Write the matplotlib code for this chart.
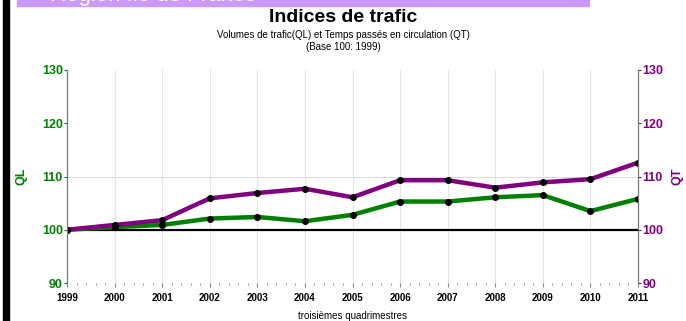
#!/usr/bin/env python3

import matplotlib.pyplot as plt
import matplotlib.ticker as ticker
from matplotlib.patches import Rectangle

years = [1999, 2000, 2001, 2002, 2003, 2004, 2005, 2006, 2007, 2008, 2009, 2010, 2011]
ql = [100.0, 100.5, 100.9, 102.1, 102.4, 101.6, 102.8, 105.3, 105.3, 106.1, 106.5, 103.5, 105.8]
qt = [100.0, 100.9, 101.8, 105.9, 106.9, 107.7, 106.1, 109.3, 109.3, 107.9, 108.9, 109.5, 112.6]

green = '#008000'
purple = '#800080'
font = ['Liberation Sans', 'DejaVu Sans']
plt.rcParams['font.family'] = font

fig = plt.figure(figsize=(6.86, 3.21), dpi=100)

# page decoration: black left bar and the lilac banner
fig.patches.append(Rectangle((3/686, 0), 6/686, 1, transform=fig.transFigure,
                             color='black', zorder=0))
fig.patches.append(Rectangle((17/686, 1-6/321), 572/686, 6/321, transform=fig.transFigure,
                             color='#cc99ff', zorder=0))
fig.text(50/686, 1-6/321, "Région Ile de France", color='white', fontsize=16,
         va='bottom', ha='left', clip_on=False)

ax = fig.add_axes([67/686, 1-283/321, 571/686, 213/321])
ax2 = ax.twinx()

ax.axhline(100, color='black', lw=1.6, zorder=2)
ax.axhline(110, color='#dddddd', lw=0.8, zorder=1)
for y in years:
    ax.axvline(y, color='#e4e4e4', lw=0.8, zorder=1)

ax.plot(years, ql, color=green, lw=3.2, marker='o', ms=4, mfc='black', mec='black', zorder=3)
ax.plot(years, qt, color=purple, lw=3.2, marker='o', ms=4, mfc='black', mec='black', zorder=4)

ax.set_xlim(1999, 2011)
ax.set_ylim(90, 130)
ax2.set_ylim(90, 130)
ax.set_yticks([90, 100, 110, 120, 130])
ax2.set_yticks([90, 100, 110, 120, 130])
ax.set_xticks(years)
ax.xaxis.set_minor_locator(ticker.AutoMinorLocator(5))

for a in (ax, ax2):
    a.spines['top'].set_visible(False)
    a.spines['bottom'].set_visible(False)
    a.spines['left'].set_color('#777777')
    a.spines['right'].set_color('#777777')

ax.tick_params(axis='y', colors=green, labelsize=9, length=2, pad=1)
ax2.tick_params(axis='y', colors=purple, labelsize=9, length=2, pad=1)
ax.tick_params(axis='x', which='major', labelsize=7, length=3, color='#888888', pad=4)
ax.tick_params(axis='x', which='minor', length=1.5, color='#888888')
for lab in ax.get_yticklabels():
    lab.set_fontweight('bold')
    lab.set_color(green)
for lab in ax2.get_yticklabels():
    lab.set_fontweight('bold')
    lab.set_color(purple)
for lab in ax.get_xticklabels():
    lab.set_fontweight('bold')

ax.set_ylabel("QL", color=green, fontweight='bold', fontsize=9, labelpad=10)
ax2.set_ylabel("QT", color=purple, fontweight='bold', fontsize=9, labelpad=6)
ax.set_xlabel("troisièmes quadrimestres", fontsize=7, labelpad=6)

fig.text(0.5, 1-17/321, "Indices de trafic", ha='center', va='center',
         fontsize=14, fontweight='bold')
fig.text(0.5, 1-35/321, "Volumes de trafic(QL) et Temps passés en circulation (QT)",
         ha='center', va='center', fontsize=7)
fig.text(0.5, 1-47/321, "(Base 100: 1999)", ha='center', va='center', fontsize=7)

fig.savefig("out.png", dpi=100)
